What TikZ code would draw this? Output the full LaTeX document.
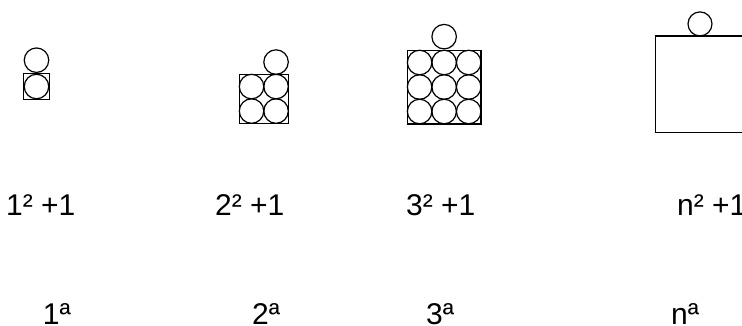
\documentclass[tikz,border=0pt]{standalone}
\usepackage{fontspec}
\setmainfont{Liberation Sans}
\usetikzlibrary{positioning}

\begin{document}
\begin{tikzpicture}[x=1pt, y=-1pt, ball/.style={circle, draw, line width=1.2pt, minimum size=24.5pt, inner sep=0pt}, box/.style={rectangle, draw, line width=1.4pt, inner sep=0pt}, lbl/.style={anchor=base west, inner sep=0pt, font=\fontsize{30}{36}\selectfont}]
\path[use as bounding box] (0,0) rectangle (742,325);
\node[box, minimum size=25.5pt] (S1) at (36.5,86.5) {};
\node[ball] (B1a) at (36.5,86.5) {};
\node[ball, above=0pt of S1] (T1) {};
\node[box, minimum size=49pt] (S2) at (263.8,98.8) {};
\node[ball] (B2a) at (251.55,86.55) {};
\node[ball] (B2b) at (276.05,86.55) {};
\node[ball] (B2c) at (251.55,111.05) {};
\node[ball] (B2d) at (276.05,111.05) {};
\node[ball] (T2) at (276.05,62.05) {};
\node[box, minimum size=73.6pt] (S3) at (444.15,87) {};
\node[ball] (B3a) at (419.6,62.5) {};
\node[ball] (B3b) at (444.15,62.5) {};
\node[ball] (B3c) at (468.7,62.5) {};
\node[ball] (B3d) at (419.6,87) {};
\node[ball] (B3e) at (444.15,87) {};
\node[ball] (B3f) at (468.7,87) {};
\node[ball] (B3g) at (419.6,111.5) {};
\node[ball] (B3h) at (444.15,111.5) {};
\node[ball] (B3i) at (468.7,111.5) {};
\node[ball, above=0pt of S3] (T3) {};
\node[box, minimum size=96.3pt] (S4) at (703.45,84.15) {};
\node[ball, minimum size=24pt] (T4) at (700,23.9) {};
\node[lbl] (P1) at (6,215) {1² +1};
\node[lbl] (P2) at (215,215) {2² +1};
\node[lbl] (P3) at (406,215) {3² +1};
\node[lbl] (P4) at (677,215) {n² +1};
\node[lbl] (O1) at (42.7,324.5) {1ª};
\node[lbl] (O2) at (252,324.5) {2ª};
\node[lbl] (O3) at (426,324.5) {3ª};
\node[lbl] (O4) at (671,324.5) {nª};
\end{tikzpicture}
\end{document}
